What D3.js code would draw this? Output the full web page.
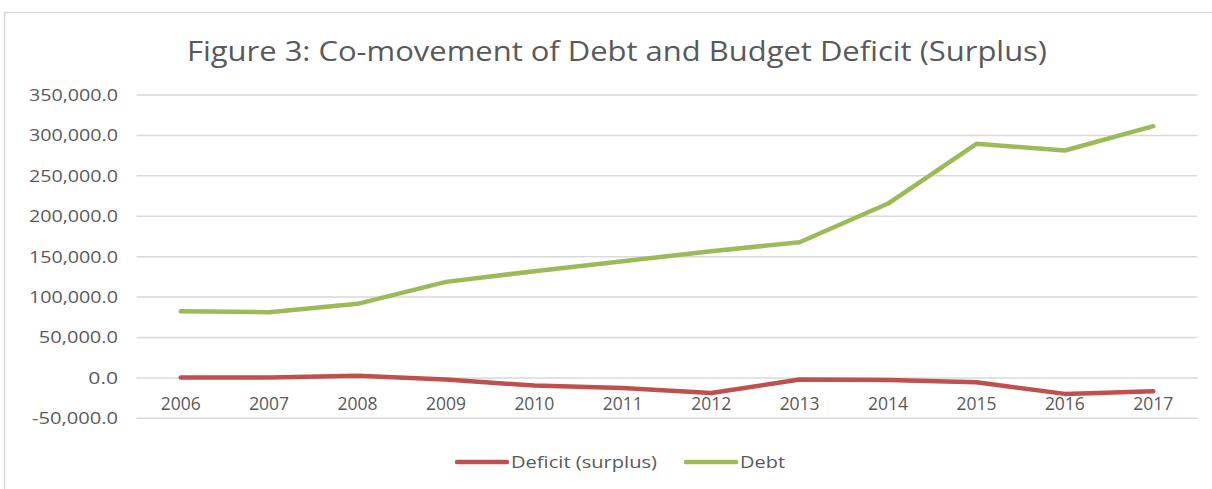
<!DOCTYPE html>
<html><head><meta charset="utf-8">
<script src="https://cdn.jsdelivr.net/npm/d3@7/dist/d3.min.js"></script>
<style>body{margin:0;background:#fff;} text{font-family:"Liberation Sans Narrow","Open Sans",Carlito,sans-serif;fill:#595959;}</style>
</head><body>
<svg id="c" width="1212" height="489"></svg>
<script>
const years = ["2006","2007","2008","2009","2010","2011","2012","2013","2014","2015","2016","2017"];
const deficit = [500, 500, 2500, -2100, -9500, -12400, -18600, -2100, -2500, -5400, -19800, -16500];
const debt = [82400, 81200, 91600, 118800, 132000, 144300, 156700, 167800, 215700, 289600, 281300, 311400];
const yTicks = [-50000, 0, 50000, 100000, 150000, 200000, 250000, 300000, 350000];
const seriesNames = ["Deficit (surplus)", "Debt"];
const title = "Figure 3: Co-movement of Debt and Budget Deficit (Surplus)";

const svg = d3.select("#c");
const colors = ["#C0504D", "#9BBB59"];

svg.append("rect").attr("x",4.5).attr("y",12.5).attr("width",1230).attr("height",500)
  .attr("fill","#fff").attr("stroke","#D9D9D9").attr("stroke-width",1.5);

const x = d3.scaleBand().domain(years).range([136.5, 1197.5]);
const y = d3.scaleLinear().domain([-50000, 350000]).range([418.3, 95]);

const fmt = d3.format(",.1f");
const fmtTick = v => v < 0 ? "-" + fmt(-v) : fmt(v);

// gridlines
svg.append("g").selectAll("line").data(yTicks).join("line")
  .attr("x1", x.range()[0]).attr("x2", x.range()[1])
  .attr("y1", d => y(d)).attr("y2", d => y(d))
  .attr("stroke", "#D9D9D9").attr("stroke-width", 1.5);

// y axis labels
const yAxis = d3.axisLeft(y).tickValues(yTicks).tickFormat(fmtTick).tickSize(0).tickPadding(0);
const gy = svg.append("g").attr("transform","translate(118,0)").call(yAxis);
gy.select(".domain").remove();
gy.selectAll("text").attr("font-size",17).style("fill","#595959")
  .style("font-family",'"Liberation Sans Narrow","Open Sans",sans-serif')
  .each(function(d){ const s=fmtTick(d); d3.select(this).attr("textLength", s.length*9.9 + (s.startsWith("-")?-3:0)).attr("lengthAdjust","spacingAndGlyphs"); });

// x axis labels
const xAxis = d3.axisBottom(x).tickSize(0).tickPadding(0);
const gx = svg.append("g").attr("transform","translate(0,397)").call(xAxis);
gx.select(".domain").remove();
gx.selectAll("text").attr("font-size",18).style("fill","#595959")
  .attr("textLength",40).attr("lengthAdjust","spacingAndGlyphs");

// lines
const line = d3.line().x((d,i) => x(years[i]) + x.bandwidth()/2).y(d => y(d));
[deficit, debt].forEach((s,i) => {
  svg.append("path").datum(s).attr("d", line).attr("fill","none")
    .attr("stroke", colors[i]).attr("stroke-width", 4.5)
    .attr("stroke-linejoin","round").attr("stroke-linecap","round");
});

// title
svg.append("text").attr("x", 617).attr("y", 61).attr("text-anchor","middle")
  .attr("font-size", 28).text(title)
  .attr("textLength", 860).attr("lengthAdjust","spacingAndGlyphs");

// legend
const legend = [{x1:457,x2:507,tx:511,tl:146},{x1:686,x2:736,tx:740,tl:45}];
legend.forEach((l,i) => {
  svg.append("line").attr("x1",l.x1).attr("x2",l.x2).attr("y1",462).attr("y2",462)
    .attr("stroke",colors[i]).attr("stroke-width",4.5).attr("stroke-linecap","round");
  svg.append("text").attr("x",l.tx).attr("y",468).attr("font-size",17).text(seriesNames[i])
    .attr("textLength",l.tl).attr("lengthAdjust","spacingAndGlyphs");
});
</script>
</body></html>
